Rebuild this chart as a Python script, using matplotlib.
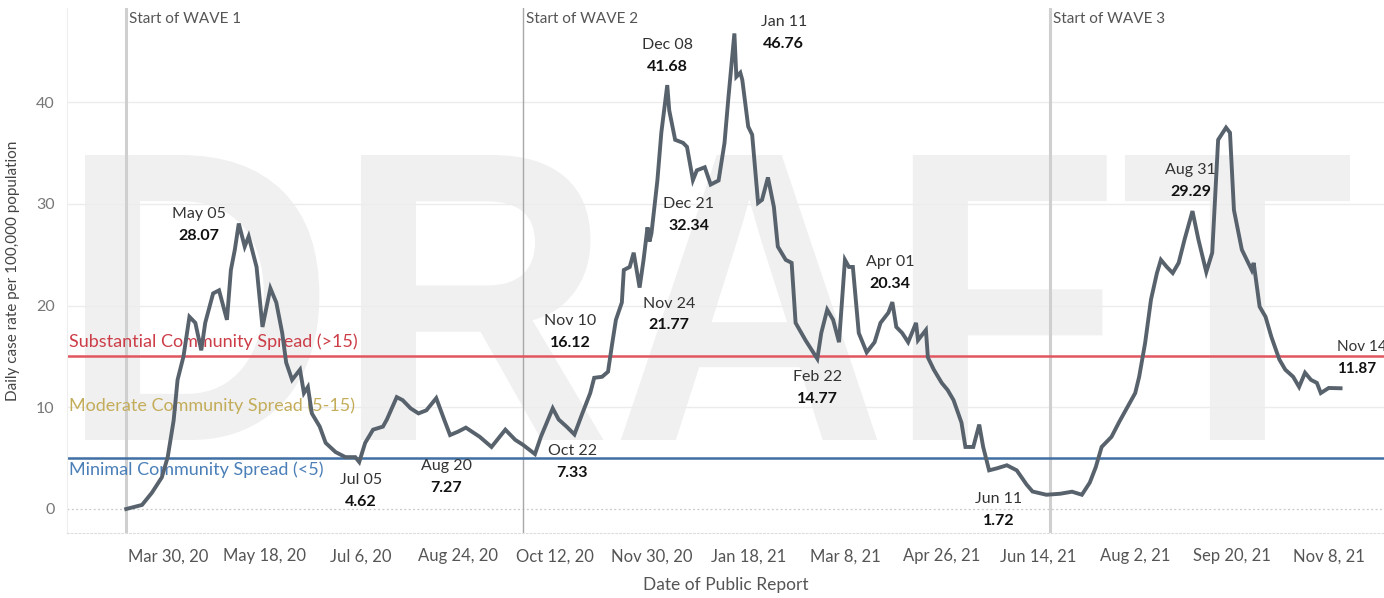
#Daily case rate chart with wave markers and spread thresholds

import matplotlib
matplotlib.use("Agg")
import matplotlib.pyplot as plt
from matplotlib.textpath import TextPath
from matplotlib.patches import PathPatch
from matplotlib.font_manager import FontProperties
from matplotlib.transforms import Affine2D
import pandas as pd

plt.rcParams["font.family"] = ["Lato", "DejaVu Sans"]

#data
dates = [
    "2020-03-09", "2020-03-17", "2020-03-22", "2020-03-27", "2020-03-30", "2020-04-02",
    "2020-04-04", "2020-04-07", "2020-04-10", "2020-04-13", "2020-04-16", "2020-04-18",
    "2020-04-22", "2020-04-25", "2020-04-29", "2020-05-01", "2020-05-03", "2020-05-05",
    "2020-05-08", "2020-05-10", "2020-05-14", "2020-05-17", "2020-05-21", "2020-05-24",
    "2020-05-27", "2020-05-29", "2020-06-01", "2020-06-05", "2020-06-07", "2020-06-09",
    "2020-06-11", "2020-06-15", "2020-06-18", "2020-06-23", "2020-06-28", "2020-07-03",
    "2020-07-05", "2020-07-08", "2020-07-12", "2020-07-17", "2020-07-19", "2020-07-24",
    "2020-07-27", "2020-07-31", "2020-08-04", "2020-08-08", "2020-08-13", "2020-08-17",
    "2020-08-20", "2020-08-24", "2020-08-28", "2020-09-04", "2020-09-10", "2020-09-17",
    "2020-09-22", "2020-09-26", "2020-10-02", "2020-10-05", "2020-10-11", "2020-10-14",
    "2020-10-18", "2020-10-22", "2020-10-26", "2020-10-30", "2020-11-01", "2020-11-05",
    "2020-11-08", "2020-11-10", "2020-11-12", "2020-11-15", "2020-11-16", "2020-11-19",
    "2020-11-21", "2020-11-24", "2020-11-26", "2020-11-28", "2020-11-29", "2020-11-30",
    "2020-12-03", "2020-12-05", "2020-12-08", "2020-12-09", "2020-12-12", "2020-12-16",
    "2020-12-18", "2020-12-21", "2020-12-23", "2020-12-27", "2020-12-30", "2021-01-03",
    "2021-01-06", "2021-01-08", "2021-01-11", "2021-01-12", "2021-01-14", "2021-01-15",
    "2021-01-18", "2021-01-20", "2021-01-23", "2021-01-25", "2021-01-28", "2021-01-31",
    "2021-02-02", "2021-02-06", "2021-02-09", "2021-02-11", "2021-02-16", "2021-02-22",
    "2021-02-24", "2021-02-27", "2021-03-02", "2021-03-05", "2021-03-08", "2021-03-10",
    "2021-03-12", "2021-03-15", "2021-03-19", "2021-03-23", "2021-03-26", "2021-03-30",
    "2021-04-01", "2021-04-03", "2021-04-06", "2021-04-09", "2021-04-13", "2021-04-14",
    "2021-04-18", "2021-04-19", "2021-04-22", "2021-04-26", "2021-04-29", "2021-05-02",
    "2021-05-06", "2021-05-08", "2021-05-12", "2021-05-15", "2021-05-17", "2021-05-20",
    "2021-05-24", "2021-05-29", "2021-06-03", "2021-06-08", "2021-06-11", "2021-06-18",
    "2021-06-25", "2021-07-01", "2021-07-06", "2021-07-10", "2021-07-13", "2021-07-16",
    "2021-07-21", "2021-07-25", "2021-08-02", "2021-08-04", "2021-08-07", "2021-08-10",
    "2021-08-13", "2021-08-15", "2021-08-18", "2021-08-21", "2021-08-24", "2021-08-27",
    "2021-08-31", "2021-09-03", "2021-09-07", "2021-09-10", "2021-09-13", "2021-09-17",
    "2021-09-19", "2021-09-21", "2021-09-25", "2021-09-30", "2021-10-01", "2021-10-04",
    "2021-10-07", "2021-10-10", "2021-10-14", "2021-10-17", "2021-10-21", "2021-10-24",
    "2021-10-27", "2021-10-30", "2021-11-02", "2021-11-04", "2021-11-08", "2021-11-14",
]
rates = [
    0.0, 0.4, 1.6, 3.1, 5.1, 8.7,
    12.7, 15.0, 18.9, 18.3, 15.6, 18.3,
    21.2, 21.5, 18.6, 23.5, 25.5, 28.07,
    25.8, 26.8, 23.8, 17.9, 21.7, 20.3,
    17.3, 14.4, 12.7, 13.7, 11.4, 12.0,
    9.4, 8.1, 6.5, 5.6, 5.1, 5.1,
    4.62, 6.5, 7.8, 8.1, 8.8, 11.0,
    10.7, 9.9, 9.4, 9.7, 10.9, 8.8,
    7.27, 7.6, 8.0, 7.1, 6.1, 7.8,
    6.8, 6.3, 5.4, 7.1, 9.9, 8.8,
    8.1, 7.33, 9.4, 11.4, 12.9, 13.0,
    13.5, 16.12, 18.6, 20.3, 23.5, 23.8,
    25.2, 21.77, 24.5, 27.7, 26.3, 27.1,
    32.3, 37.0, 41.68, 39.2, 36.3, 36.0,
    35.6, 32.34, 33.3, 33.6, 31.9, 32.3,
    36.0, 40.5, 46.76, 42.5, 42.9, 42.2,
    37.6, 36.8, 30.1, 30.4, 32.6, 29.7,
    25.8, 24.5, 24.2, 18.3, 16.6, 14.77,
    17.3, 19.6, 18.6, 16.4, 24.5, 23.8,
    23.8, 17.3, 15.4, 16.4, 18.3, 19.3,
    20.34, 17.9, 17.3, 16.4, 18.3, 16.6,
    17.6, 14.9, 13.7, 12.4, 11.7, 10.7,
    8.5, 6.1, 6.1, 8.3, 6.1, 3.8,
    4.0, 4.3, 3.8, 2.4, 1.72, 1.4,
    1.5, 1.7, 1.4, 2.6, 4.1, 6.1,
    7.1, 8.6, 11.4, 13.0, 16.3, 20.6,
    23.2, 24.5, 23.8, 23.2, 24.2, 26.5,
    29.29, 26.5, 23.3, 25.2, 36.3, 37.5,
    37.0, 29.4, 25.5, 23.5, 24.2, 19.9,
    18.9, 16.9, 14.7, 13.7, 13.0, 12.0,
    13.4, 12.7, 12.4, 11.4, 11.9, 11.87,
]

wave_dates = ["2020-03-09", "2020-09-26", "2021-06-20"]
wave_labels = ["Start of WAVE 1", "Start of WAVE 2", "Start of WAVE 3"]

thresholds = [15, 5]
threshold_labels = ["Substantial Community Spread (>15)", "Moderate Community Spread (5-15)",
                    "Minimal Community Spread (<5)"]

note_dates = ["May 05", "Jul 05", "Aug 20", "Oct 22", "Nov 10", "Nov 24", "Dec 08",
              "Dec 21", "Jan 11", "Feb 22", "Apr 01", "Jun 11", "Aug 31", "Nov 14"]
note_values = ["28.07", "4.62", "7.27", "7.33", "16.12", "21.77", "41.68",
               "32.34", "46.76", "14.77", "20.34", "1.72", "29.29", "11.87"]

# where each note block sits on the chart (centre of the date line)
note_pos = [("2020-04-15", 29.0), ("2020-07-06", 2.85), ("2020-08-18", 4.25),
            ("2020-10-21", 5.7), ("2020-10-20", 18.5), ("2020-12-09", 20.2),
            ("2020-12-08", 45.6), ("2020-12-19", 30.0), ("2021-02-05", 47.9),
            ("2021-02-22", 13.0), ("2021-03-31", 24.3), ("2021-05-25", 0.95),
            ("2021-08-30", 33.3), ("2021-11-12", 15.9)]

df = pd.DataFrame({"date": pd.to_datetime(dates), "rate": rates})

fig = plt.figure(figsize=(13.84, 5.98), dpi=100)
ax = fig.add_axes([67 / 1384, 65 / 598, 1317 / 1384, 525 / 598])

#DRAFT watermark stretched over the plot
tp = TextPath((0, 0), "DRAFT", size=1, prop=FontProperties(family="Liberation Sans", weight="bold"))
ext = tp.get_extents()
x0, x1, y0, y1 = 85 / 1384, 1350 / 1384, 1 - 440 / 598, 1 - 155 / 598
tr = (Affine2D().translate(-ext.x0, -ext.y0)
      .scale((x1 - x0) / ext.width, (y1 - y0) / ext.height)
      .translate(x0, y0) + fig.transFigure)
ax.add_patch(PathPatch(tp, transform=tr, facecolor="#f0f0f0", edgecolor="none", zorder=0))

#grid
for v in [10, 20, 30, 40]:
    ax.axhline(v, color="#ececec", lw=1, zorder=0.5)
ax.axhline(0, color="#c8c8c8", lw=0.9, ls=(0, (1.5, 2)), zorder=0.5)

#wave lines
wave_styles = [("#cfcfcf", 2.2), ("#a8a8a8", 1.0), ("#cfcfcf", 2.2)]
for d, lab, (c, w) in zip(wave_dates, wave_labels, wave_styles):
    ax.axvline(pd.Timestamp(d), color=c, lw=w, zorder=1)
    ax.text(pd.Timestamp(d) + pd.Timedelta(days=1.5), 48.2, lab, fontsize=11, color="#555555",
            va="center", ha="left")

#threshold lines
ax.axhline(thresholds[0], color="#e0575f", lw=1.8, zorder=2)
ax.axhline(thresholds[1], color="#3f6fa3", lw=1.8, zorder=2)
xt = pd.Timestamp("2020-02-09")
ax.text(xt, 16.45, threshold_labels[0], color="#cc3d47", fontsize=13, va="center")
ax.text(xt, 10.15, threshold_labels[1], color="#c4ad5a", fontsize=13, va="center")
ax.text(xt, 3.9, threshold_labels[2], color="#4a7fb8", fontsize=13, va="center")

#main line
ax.plot(df["date"], df["rate"], color="#58626d", lw=2.8, zorder=3, solid_joinstyle="miter")

#notes
for nd, nv, (px, py) in zip(note_dates, note_values, note_pos):
    ha = "left" if nd == "Nov 14" else "center"
    fs = 11 if nd == "Nov 14" else 11.5
    ax.text(pd.Timestamp(px), py, nd, ha=ha, va="center", fontsize=fs, color="#333333", zorder=4)
    ax.text(pd.Timestamp(px), py - 2.15, nv, ha=ha, va="center", fontsize=fs,
            fontweight="bold", color="#111111", zorder=4)

#axes
start = pd.Timestamp("2020-03-30")
ticks = [start + pd.Timedelta(days=49 * k) for k in range(13)]
ax.set_xticks(ticks)
ax.set_xticklabels([f"{t:%b} {t.day}, {t:%y}" for t in ticks])
ax.set_xlim(pd.Timestamp("2020-02-08"), pd.Timestamp("2021-12-06"))
ax.set_ylim(-2.36, 49.26)
ax.set_yticks([0, 10, 20, 30, 40])
ax.tick_params(axis="x", length=0, pad=11, labelsize=12, labelcolor="#555555")
ax.tick_params(axis="y", length=0, pad=9, labelsize=11.5, labelcolor="#777777")

for s in ["top", "right"]:
    ax.spines[s].set_visible(False)
ax.spines["left"].set_color("#eeeeee")
ax.spines["bottom"].set_color("#dddddd")
ax.spines["bottom"].set_linestyle((0, (1.5, 2)))

ax.set_xlabel("Date of Public Report", fontsize=12.5, color="#555555", labelpad=9)
ax.set_ylabel("Daily case rate per 100,000 population", fontsize=11, color="#444444", labelpad=11)

plt.savefig("out.png", dpi=100)
